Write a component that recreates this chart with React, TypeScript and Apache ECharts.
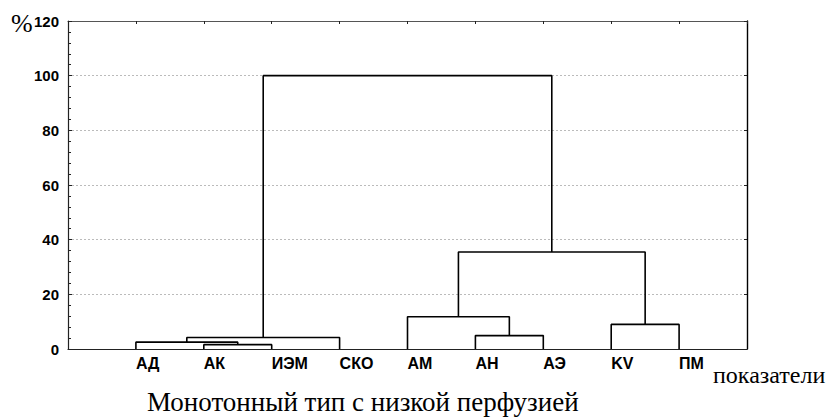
import React, { useEffect, useRef } from "react";
import * as echarts from "echarts";

const leaves = ["АД", "АК", "ИЭМ", "СКО", "АМ", "АН", "АЭ", "KV", "ПМ"];
// merges: [childA, childB, height]; a child is a leaf name or the index of an earlier merge
const merges: [string | number, string | number, number][] = [
  ["АК", "ИЭМ", 1.6],
  ["АН", "АЭ", 4.9],
  ["АД", 0, 2.5],
  ["KV", "ПМ", 9.0],
  [2, "СКО", 4.2],
  ["АМ", 1, 11.8],
  [5, 3, 35.5],
  [4, 6, 100],
];
const yTicks = [0, 20, 40, 60, 80, 100, 120];
const yLabel = "%";
const xLabel = "показатели";
const title = "Монотонный тип с низкой перфузией";

export default function App() {
  const ref = useRef<HTMLDivElement>(null);
  useEffect(() => {
    if (!ref.current) return;
    const chart = echarts.init(ref.current, null, { renderer: "svg" });
    const pos: { x: number; h: number }[] = [];
    const nodeOf = (c: string | number) =>
      typeof c === "number" ? pos[c] : { x: leaves.indexOf(c) + 1, h: 0 };
    const series: any[] = [];
    merges.forEach(([a, b, h], i) => {
      const na = nodeOf(a);
      const nb = nodeOf(b);
      pos[i] = { x: (na.x + nb.x) / 2, h };
      series.push({
        type: "line",
        data: [
          [na.x, na.h],
          [na.x, h],
          [nb.x, h],
          [nb.x, nb.h],
        ],
        showSymbol: false,
        symbol: "none",
        lineStyle: { color: "#000", width: 1.6 },
        silent: true,
        z: 5,
      });
    });
    const axisColor = "#222";
    const sans = "Liberation Sans, Arial, sans-serif";
    const serif = "Liberation Serif, Times New Roman, serif";
    chart.setOption({
      animation: false,
      grid: { left: 68, right: 83, top: 21, bottom: 70 },
      xAxis: [
        {
          type: "value",
          min: 0,
          max: leaves.length + 1,
          interval: 1,
          position: "bottom",
          axisLine: { show: true, onZero: false, lineStyle: { color: axisColor, width: 1.2 } },
          axisTick: { show: false },
          splitLine: { show: false },
          axisLabel: {
            formatter: (v: number) => leaves[Math.round(v) - 1] ?? "",
            align: "left",
            margin: 6,
            color: "#000",
            fontWeight: "bold",
            fontSize: 16,
            fontFamily: sans,
          },
        },
        {
          type: "value",
          min: 0,
          max: leaves.length + 1,
          interval: 1,
          position: "top",
          axisLine: { show: true, onZero: false, lineStyle: { color: "#555", width: 1.2 } },
          axisTick: { show: true, inside: true, length: 3, lineStyle: { color: axisColor } },
          axisLabel: { show: false },
          splitLine: { show: false },
        },
      ],
      yAxis: [
        {
          type: "value",
          min: yTicks[0],
          max: yTicks[yTicks.length - 1],
          interval: 20,
          position: "left",
          axisLine: { show: true, onZero: false, lineStyle: { color: axisColor, width: 1.2 } },
          axisTick: { show: true, inside: true, length: 4, lineStyle: { color: axisColor } },
          minorTick: { show: true, splitNumber: 5, length: 3, lineStyle: { color: axisColor } },
          splitLine: { show: true, lineStyle: { color: "#bbb", type: [2, 2], width: 1 } },
          axisLabel: {
            margin: 9,
            color: "#000",
            fontWeight: "bold",
            fontSize: 15,
            fontFamily: sans,
          },
        },
        {
          type: "value",
          min: yTicks[0],
          max: yTicks[yTicks.length - 1],
          interval: 20,
          position: "right",
          axisLine: { show: true, onZero: false, lineStyle: { color: "#000", width: 1.4 } },
          axisTick: { show: true, inside: true, length: 3, lineStyle: { color: axisColor } },
          axisLabel: { show: false },
          splitLine: { show: false },
        },
      ],
      series,
      graphic: [
        {
          type: "text",
          left: 11,
          top: 10,
          style: { text: yLabel, fontSize: 26, fontFamily: serif, fill: "#000" },
        },
        {
          type: "text",
          left: 713,
          top: 363,
          style: { text: xLabel, fontSize: 24, fontFamily: serif, fill: "#000" },
        },
        {
          type: "text",
          left: 147,
          top: 388,
          style: { text: title, fontSize: 27, fontFamily: serif, fill: "#000" },
        },
      ],
    });
    return () => chart.dispose();
  }, []);
  return <div ref={ref} style={{ width: 830, height: 419, position: "absolute", left: 0, top: 0 }} />;
}
